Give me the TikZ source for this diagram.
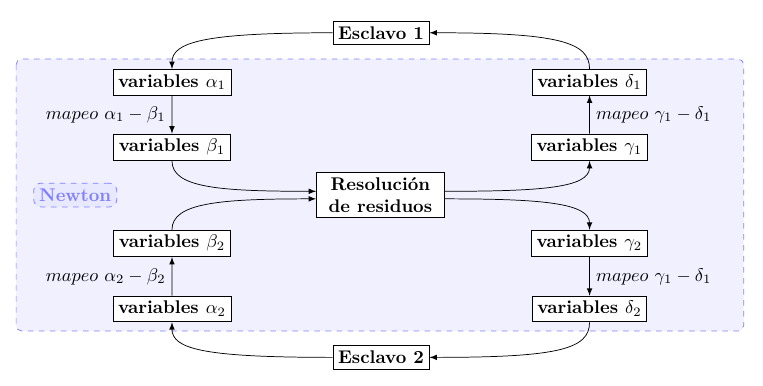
\documentclass[tikz,border=0pt]{standalone}
\usepackage{amsmath}
\usepackage{amssymb}
\usetikzlibrary{shapes,arrows,positioning,calc}

\tikzset{
    bloque/.style={draw, fill=white, font=\bfseries, align=center, inner sep=2.8pt},
    flecha/.style={-latex},
}

\begin{document}
\begin{tikzpicture}[scale=1.028]
    \useasboundingbox (0,0) rectangle (14.2,-7.17);

    % Newton region
    \draw[dashed, rounded corners=3pt, blue!50, fill=blue!6] (0.30,-1.10) rectangle (13.84,-6.16);
    \node[draw=blue!50, dashed, rounded corners=4pt, fill=blue!9, text=blue!50, font=\bfseries, inner sep=3pt] (newton) at (1.40,-3.63) {Newton};

    % Slaves
    \node[bloque] (esc1) at (7.09,-0.61) {Esclavo 1};
    \node[bloque] (esc2) at (7.09,-6.65) {Esclavo 2};

    % Residual solver
    \node[bloque, minimum width=2.45cm] (res) at (7.08,-3.63) {Resoluci\'on\\de residuos};

    % Left branch
    \node[bloque] (alfa1) at (3.20,-1.53) {variables $\alpha_1$};
    \node[bloque] (beta1) at (3.20,-2.74) {variables $\beta_1$};
    \node[bloque] (beta2) at (3.20,-4.53) {variables $\beta_2$};
    \node[bloque] (alfa2) at (3.20,-5.75) {variables $\alpha_2$};

    % Right branch
    \node[bloque] (delta1) at (10.97,-1.53) {variables $\delta_1$};
    \node[bloque] (gamma1) at (10.97,-2.74) {variables $\gamma_1$};
    \node[bloque] (gamma2) at (10.97,-4.53) {variables $\gamma_2$};
    \node[bloque] (delta2) at (10.97,-5.75) {variables $\delta_2$};

    % Mappings
    \draw[flecha] (alfa1) -- node[left] {$mapeo\ \alpha_1-\beta_1$} (beta1);
    \draw[flecha] (alfa2) -- node[left] {$mapeo\ \alpha_2-\beta_2$} (beta2);
    \draw[flecha] (gamma1) -- node[right] {$mapeo\ \gamma_1-\delta_1$} (delta1);
    \draw[flecha] (gamma2) -- node[right] {$mapeo\ \gamma_1-\delta_1$} (delta2);

    % Slave links
    \draw[flecha] (esc1.west) .. controls +(-2.4,0) and +(0,0.5) .. (alfa1.north);
    \draw[flecha] (delta1.north) .. controls +(0,0.5) and +(2.4,0) .. (esc1.east);
    \draw[flecha] (esc2.west) .. controls +(-2.4,0) and +(0,-0.5) .. (alfa2.south);
    \draw[flecha] (delta2.south) .. controls +(0,-0.5) and +(2.4,0) .. (esc2.east);

    % Residuals
    \draw[flecha] (beta1.south) .. controls +(0,-0.5) and +(-1.8,0) .. ([yshift=2pt]res.west);
    \draw[flecha] (beta2.north) .. controls +(0,0.5) and +(-1.8,0) .. ([yshift=-2pt]res.west);
    \draw[flecha] ([yshift=2pt]res.east) .. controls +(1.8,0) and +(0,-0.5) .. (gamma1.south);
    \draw[flecha] ([yshift=-2pt]res.east) .. controls +(1.8,0) and +(0,0.5) .. (gamma2.north);
\end{tikzpicture}
\end{document}
